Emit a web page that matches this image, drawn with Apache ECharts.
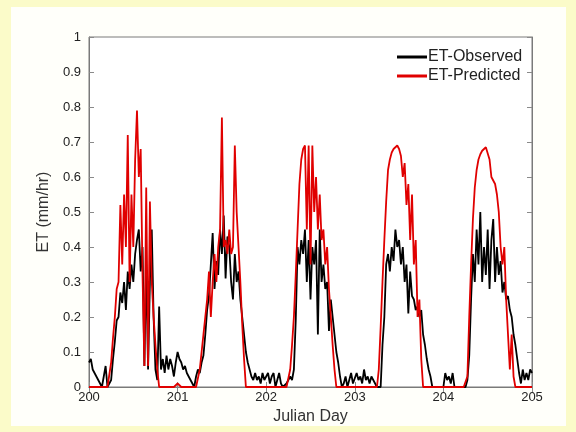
<!DOCTYPE html>
<html>
<head>
<meta charset="utf-8">
<script src="https://cdn.jsdelivr.net/npm/echarts@6/dist/echarts.min.js"></script>
<style>
  html, body { margin: 0; padding: 0; background: #fbfbc9; }
  #frame { position: absolute; left: 11px; top: 7px; width: 555px; height: 419px; background: #fffffa; }
  #chart { position: absolute; left: 0; top: 0; width: 576px; height: 432px; }
</style>
</head>
<body>
<div id="frame"></div>
<div id="chart"></div>
<script>
// Time axis: Julian day 200 to 205, one sample every 30 minutes
const startDay = 200;
const samplesPerDay = 48;
const xTicks = [200, 201, 202, 203, 204, 205];
const yTicks = [0, 0.1, 0.2, 0.3, 0.4, 0.5, 0.6, 0.7, 0.8, 0.9, 1];

// ET-Observed (mm/hr), one row per day
const observed200 = [0.07,0.08,0.05,0.04,0.03,0.02,0.01,0.0,0.0,0.06,0.0,0.0,
  0.02,0.08,0.13,0.19,0.2,0.27,0.24,0.3,0.22,0.33,0.28,0.35,0.3,0.38,0.42,0.45,0.33,0.4,0.06,0.35,0.05,0.3,0.45,0.2,0.05,0.02,0.23,0.05,0.08,0.04,0.09,0.05,0.08,0.06,0.03,0.07];
const observed201 = [0.10,0.08,0.07,0.05,0.06,0.04,0.03,0.02,0.02,0.0,0.03,0.05,
  0.04,0.07,0.09,0.15,0.22,0.26,0.35,0.44,0.28,0.36,0.32,0.45,0.38,0.49,0.31,0.43,0.4,0.3,0.25,0.38,0.3,0.33,0.25,0.2,0.15,0.1,0.07,0.05,0.03,0.02,0.04,0.02,0.03,0.01,0.04,0.02];
const observed202 = [0.02,0.04,0.01,0.03,0.04,0.0,0.02,0.04,0.01,0.0,0.0,0.01,
  0.02,0.03,0.02,0.05,0.19,0.4,0.35,0.42,0.38,0.45,0.3,0.42,0.25,0.4,0.35,0.42,0.15,0.45,0.3,0.35,0.28,0.3,0.16,0.25,0.2,0.15,0.1,0.07,0.03,0.0,0.01,0.03,0.0,0.02,0.04,0.01];
const observed203 = [0.01,0.04,0.02,0.03,0.01,0.05,0.02,0.03,0.01,0.03,0.02,0.01,
  0.0,0.0,0.0,0.12,0.2,0.35,0.38,0.33,0.4,0.36,0.45,0.4,0.42,0.35,0.4,0.3,0.35,0.21,0.33,0.26,0.25,0.22,0.23,0.2,0.22,0.15,0.12,0.08,0.05,0.03,0.0,0.0,0.0,0.0,0.0,0.0];
const observed204 = [0.0,0.04,0.02,0.03,0.01,0.04,0.0,0.0,0.0,0.0,0.0,0.0,
  0.0,0.02,0.09,0.25,0.38,0.3,0.45,0.35,0.5,0.3,0.4,0.32,0.45,0.28,0.42,0.48,0.3,0.4,0.32,0.36,0.27,0.3,0.25,0.26,0.22,0.2,0.15,0.12,0.08,0.04,0.01,0.05,0.02,0.04,0.02,0.05];
const observedEnd = [0.04];

// ET-Predicted (mm/hr), one row per day
const predicted200 = [0,0,0,0,0,0,0,0,0,0,0,0,
  0.07,0.14,0.2,0.28,0.3,0.52,0.35,0.55,0.4,0.72,0.3,0.55,0.4,0.65,0.79,0.6,0.68,0.32,0.06,0.57,0.06,0.53,0.3,0.2,0.12,0.05,0.0,0,0,0,0,0,0,0,0,0];
const predicted201 = [0.01,0.01,0,0,0,0,0,0,0,0,0,0,
  0.05,0.1,0.15,0.2,0.25,0.33,0.2,0.3,0.38,0.3,0.4,0.45,0.77,0.4,0.42,0.38,0.45,0.38,0.4,0.69,0.5,0.4,0.3,0.18,0.08,0.0,0,0,0,0,0,0,0,0,0,0];
const predicted202 = [0,0,0,0,0,0,0,0,0,0,0,0,
  0.0,0.05,0.12,0.2,0.32,0.45,0.58,0.65,0.68,0.69,0.45,0.69,0.35,0.69,0.5,0.6,0.45,0.55,0.42,0.45,0.35,0.4,0.28,0.2,0.12,0.05,0.0,0,0,0,0,0,0,0,0,0];
const predicted203 = [0,0,0,0,0,0,0,0,0,0,0,0,
  0.0,0.05,0.17,0.3,0.42,0.53,0.62,0.65,0.67,0.68,0.685,0.69,0.68,0.66,0.6,0.64,0.52,0.58,0.42,0.55,0.35,0.42,0.2,0.25,0.08,0.0,0,0,0,0,0,0,0,0,0,0];
const predicted204 = [0,0,0,0,0,0,0,0,0,0,0,0,
  0.0,0.03,0.2,0.35,0.48,0.57,0.62,0.65,0.665,0.675,0.68,0.685,0.68,0.65,0.6,0.6,0.58,0.55,0.5,0.4,0.35,0.4,0.25,0.15,0.05,0.15,0.03,0.0,0,0,0,0,0,0,0,0];
const predictedEnd = [0];

const observed = [].concat(observed200, observed201, observed202, observed203, observed204, observedEnd);
const predicted = [].concat(predicted200, predicted201, predicted202, predicted203, predicted204, predictedEnd);

function toPairs(values) {
  return values.map((v, i) => [startDay + i / samplesPerDay, v]);
}

const FONT = '"Liberation Sans", Arial, sans-serif';
const chart = echarts.init(document.getElementById('chart'), null, { renderer: 'canvas' });

const axisLineStyle = { color: '#7a7a7a', width: 1 };
const tickStyle = { show: true, inside: true, length: 5, lineStyle: { color: '#8a8a8a' } };

chart.setOption({
  backgroundColor: 'transparent',
  animation: false,
  grid: { left: 89, top: 37, width: 443, height: 350, show: true, backgroundColor: '#ffffff', borderColor: '#7a7a7a', borderWidth: 1, containLabel: false },
  legend: {
    orient: 'vertical', left: 397, top: 49, padding: 0,
    itemWidth: 30, itemHeight: 3, itemGap: 3,
    icon: 'rect',
    textStyle: { fontFamily: FONT, fontSize: 16, color: '#222', padding: [0, 0, 0, -4] },
    data: ['ET-Observed', 'ET-Predicted']
  },
  xAxis: [
    {
      type: 'value', min: xTicks[0], max: xTicks[xTicks.length - 1], interval: 1,
      name: 'Julian Day', nameLocation: 'middle', nameGap: 21,
      nameTextStyle: { fontFamily: FONT, fontSize: 16, color: '#333' },
      axisLine: { show: true, lineStyle: axisLineStyle },
      axisTick: tickStyle,
      axisLabel: { fontFamily: FONT, fontSize: 13, color: '#222', margin: 4 },
      splitLine: { show: false }
    },
    {
      type: 'value', position: 'top', min: xTicks[0], max: xTicks[xTicks.length - 1], interval: 1,
      axisLine: { show: true, lineStyle: axisLineStyle },
      axisTick: tickStyle, axisLabel: { show: false }, splitLine: { show: false }
    }
  ],
  yAxis: [
    {
      type: 'value', min: yTicks[0], max: yTicks[yTicks.length - 1], interval: 0.1,
      name: 'ET (mm/hr)', nameLocation: 'middle', nameGap: 30, nameRotate: 90,
      nameTextStyle: { fontFamily: FONT, fontSize: 16, color: '#333' },
      axisLine: { show: true, lineStyle: axisLineStyle },
      axisTick: tickStyle,
      axisLabel: { fontFamily: FONT, fontSize: 13, color: '#222', margin: 8,
        formatter: v => String(+v.toFixed(1)) },
      splitLine: { show: false }
    },
    {
      type: 'value', position: 'right', min: yTicks[0], max: yTicks[yTicks.length - 1], interval: 0.1,
      axisLine: { show: true, lineStyle: axisLineStyle },
      axisTick: tickStyle, axisLabel: { show: false }, splitLine: { show: false }
    }
  ],
  series: [
    {
      name: 'ET-Observed', type: 'line', xAxisIndex: 0, yAxisIndex: 0,
      showSymbol: false, symbol: 'none',
      lineStyle: { color: '#000000', width: 1.8 }, itemStyle: { color: '#000000' },
      data: toPairs(observed)
    },
    {
      name: 'ET-Predicted', type: 'line', xAxisIndex: 0, yAxisIndex: 0,
      showSymbol: false, symbol: 'none',
      lineStyle: { color: '#e00000', width: 1.8 }, itemStyle: { color: '#e00000' },
      data: toPairs(predicted)
    }
  ]
});
</script>
</body>
</html>
